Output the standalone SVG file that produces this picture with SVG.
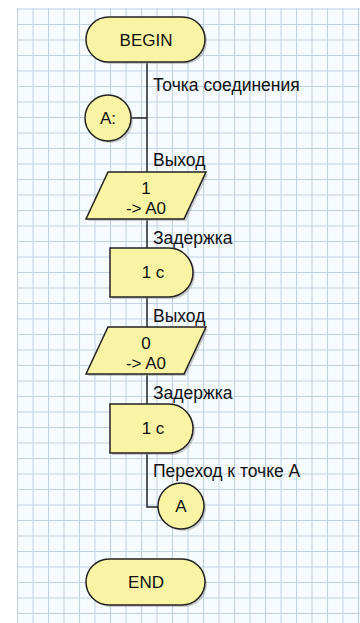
<svg xmlns="http://www.w3.org/2000/svg" width="360" height="623" viewBox="0 0 360 623">
<style>
.shape{fill:#f8f4a4;stroke:#222;stroke-width:1.5}
.shadow{fill:#9a9a9a;opacity:0.5}
.t{font-family:"Liberation Sans",Arial,sans-serif;font-size:17px;fill:#111}
.l{font-size:17.5px}
.c{text-anchor:middle}
.conn{stroke:#222;stroke-width:1.5;fill:none}
</style>
<defs>
<pattern id="grid" x="17" y="8.5" width="15.5" height="15.5" patternUnits="userSpaceOnUse">
<rect width="15.5" height="15.5" fill="#f6fbff"/>
<path d="M0.5,0 V15.5 M0,0.5 H15.5" stroke="#c0d0e2" stroke-width="1"/>
</pattern>
</defs>
<rect width="360" height="623" fill="#ffffff"/>
<rect x="17" y="8" width="343" height="615" fill="url(#grid)"/>

<g id="connectors">
<path class="conn" d="M147,62 V172"/>
<path class="conn" d="M131,118 H147"/>
<path class="conn" d="M147,219 V248"/>
<path class="conn" d="M147,297 V327"/>
<path class="conn" d="M147,374 V404"/>
<path class="conn" d="M147,453 V507 H158"/>
</g>

<g id="begin">
<rect class="shadow" x="88" y="19" width="119" height="45" rx="22.5"/>
<rect class="shape" x="86" y="17" width="119" height="45" rx="22.5"/>
<text class="t c" x="146" y="46">BEGIN</text>
</g>

<g id="label-join">
<text class="t l" x="153" y="91">Точка соединения</text>
</g>

<g id="joinA">
<circle class="shadow" cx="110" cy="120" r="23"/>
<circle class="shape" cx="108" cy="118" r="23"/>
<text class="t c" x="108" y="124">A:</text>
</g>

<g id="out1">
<text class="t l" x="153" y="166">Выход</text>
<polygon class="shadow" points="110,174 208,174 186,221 88,221"/>
<polygon class="shape" points="108,172 206,172 184,219 86,219"/>
<text class="t c" x="146" y="194">1</text>
<text class="t c" x="146" y="214">-&gt; A0</text>
</g>

<g id="delay1">
<text class="t l" x="153" y="244">Задержка</text>
<path class="shadow" d="M112,250 H171 A24,24.5 0 0 1 171,299 H112 Z"/>
<path class="shape" d="M110,248 H169 A24,24.5 0 0 1 169,297 H110 Z"/>
<text class="t c" x="153" y="278">1 с</text>
</g>

<g id="out2">
<text class="t l" x="153" y="322">Выход</text>
<polygon class="shadow" points="110,329 208,329 186,376 88,376"/>
<polygon class="shape" points="108,327 206,327 184,374 86,374"/>
<text class="t c" x="146" y="349">0</text>
<text class="t c" x="146" y="369">-&gt; A0</text>
</g>

<g id="delay2">
<text class="t l" x="153" y="399">Задержка</text>
<path class="shadow" d="M112,406 H171 A24,24.5 0 0 1 171,455 H112 Z"/>
<path class="shape" d="M110,404 H169 A24,24.5 0 0 1 169,453 H110 Z"/>
<text class="t c" x="153" y="434">1 с</text>
</g>

<g id="gotoA">
<text class="t l" x="153" y="477">Переход к точке А</text>
<circle class="shadow" cx="183" cy="508" r="23"/>
<circle class="shape" cx="181" cy="506" r="23"/>
<text class="t c" x="181" y="512">A</text>
</g>

<g id="end">
<rect class="shadow" x="88" y="561" width="119" height="46" rx="23"/>
<rect class="shape" x="86" y="559" width="119" height="46" rx="23"/>
<text class="t c" x="146" y="588">END</text>
</g>
</svg>
